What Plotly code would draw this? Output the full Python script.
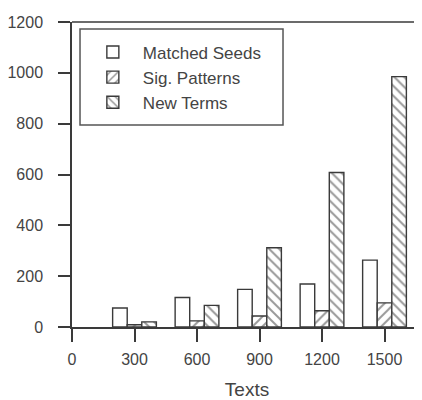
import plotly.graph_objects as go

texts = [300, 600, 900, 1200, 1500]
matched_seeds = [75, 116, 148, 169, 263]
sig_patterns = [9, 24, 43, 64, 95]
new_terms = [20, 85, 312, 608, 985]

x_ticks = [0, 300, 600, 900, 1200, 1500]
y_ticks = [0, 200, 400, 600, 800, 1000, 1200]

line_col = "#3a3a3a"
font = dict(family="Liberation Sans, Arial, sans-serif", size=16, color="#444")

fig = go.Figure()
fig.add_bar(x=texts, y=matched_seeds, name="Matched Seeds",
            marker=dict(color="white", line=dict(color=line_col, width=1.4)))
fig.add_bar(x=texts, y=sig_patterns, name="Sig. Patterns",
            marker=dict(color="white", line=dict(color=line_col, width=1.4),
                        pattern=dict(shape="/", size=7, solidity=0.28, fgcolor="#333", bgcolor="white")))
fig.add_bar(x=texts, y=new_terms, name="New Terms",
            marker=dict(color="white", line=dict(color=line_col, width=1.4),
                        pattern=dict(shape="\\", size=7, solidity=0.28, fgcolor="#333", bgcolor="white")))

# page body adds ~8px offset, so the figure is sized to fit the 422x400 window
fig.update_layout(
    width=414, height=392,
    margin=dict(l=64, r=0, t=14, b=73, autoexpand=False),
    paper_bgcolor="white", plot_bgcolor="white",
    barmode="group", bargap=0.3, bargroupgap=0,
    font=font,
    showlegend=True,
    legend=dict(x=0.031, y=0.959, xanchor="left", yanchor="top",
                borderwidth=0, bgcolor="rgba(0,0,0,0)",
                font=dict(size=17), tracegroupgap=0, itemwidth=50),
    xaxis=dict(range=[0, 1680], tickvals=x_ticks, ticks="outside", ticklen=13,
               tickwidth=1.5, tickcolor=line_col, showline=True, linecolor=line_col,
               linewidth=1.5, mirror=False, showgrid=False, zeroline=False,
               ticklabelstandoff=4, automargin=False,
               title=dict(text="Texts", standoff=27)),
    yaxis=dict(range=[0, 1200], tickvals=y_ticks, ticks="outside", ticklen=12,
               tickwidth=1.5, tickcolor=line_col, showline=True, linecolor=line_col,
               linewidth=1.5, showgrid=False, zeroline=False,
               ticklabelstandoff=12, automargin=False),
)
# top frame line
fig.add_shape(type="line", xref="paper", yref="paper", x0=0, x1=1, y0=1, y1=1,
              line=dict(color=line_col, width=1.5))
# legend frame
fig.add_shape(type="rect", xref="paper", yref="paper", x0=0.0229, x1=0.6029,
              y0=0.6623, y1=0.977, line=dict(color="#555", width=1.5), layer="below")

fig.write_html("out.html")
